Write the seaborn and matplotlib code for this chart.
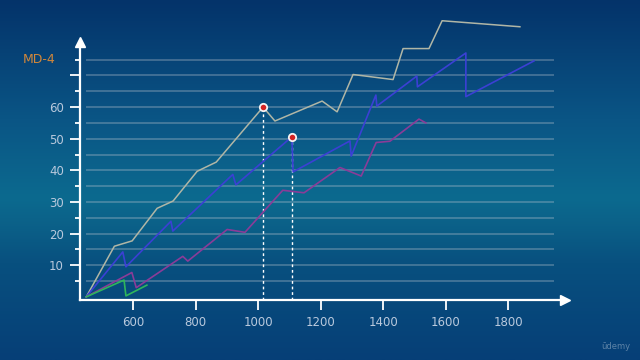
import numpy as np
import matplotlib
matplotlib.use('Agg')
import matplotlib.pyplot as plt
from matplotlib.colors import LinearSegmentedColormap
import seaborn as sns

# данные
gray_x = [450, 540, 597, 677, 728, 805, 866, 1016, 1054, 1205, 1253, 1304, 1432, 1464, 1547, 1589, 1838]
gray_y = [0, 16, 17.7, 28, 30.3, 39.7, 42.6, 60, 55.6, 61.9, 58.5, 70.3, 68.7, 78.5, 78.5, 87.3, 85.4]

blue_x = [450, 567, 577, 721, 727, 919, 929, 1108, 1112, 1294, 1298, 1377, 1380, 1508, 1510, 1665, 1665, 1883]
blue_y = [0, 14.2, 9.5, 23.9, 20.8, 38.7, 35.4, 50.6, 39.5, 49.3, 44.5, 63.8, 60.3, 69.8, 66.4, 77.1, 63.3, 74.6]

purple_x = [450, 596, 610, 759, 775, 901, 958, 1079, 1147, 1262, 1330, 1378, 1422, 1515, 1537]
purple_y = [0, 7.7, 2.9, 12.8, 11.3, 21.3, 20.4, 33.7, 32.9, 40.9, 38.2, 48.8, 49.2, 56.2, 55.0]

green_x = [450, 571, 577, 644]
green_y = [0, 5.3, 0.3, 3.7]

peak_x = [1016, 1108]
peak_y = [60, 50.6]

x_ticks = [600, 800, 1000, 1200, 1400, 1600, 1800]
y_major = [10, 20, 30, 40, 50, 60, 70]
y_major_labels = ['10', '20', '30', '40', '50', '60', '']
y_minor = [5, 15, 25, 35, 45, 55, 65, 75]
grid_levels = list(range(5, 80, 5))
top_label = 'MD-4'

fig = plt.figure(figsize=(6.4, 3.6), dpi=100)

# фон - вертикальный градиент
bg = fig.add_axes([0, 0, 1, 1], zorder=0)
cmap = LinearSegmentedColormap.from_list('bg', [
    (0.0, '#04336a'), (0.33, '#0a5585'), (0.55, '#0c6a8f'),
    (0.63, '#0b6088'), (0.73, '#08507f'), (1.0, '#063f77')])
bg.imshow(np.linspace(0, 1, 256).reshape(-1, 1), aspect='auto', cmap=cmap,
          extent=[0, 1, 1, 0])
bg.axis('off')

ax = fig.add_axes([0.125, 1 - 300 / 360, 0.875, 300 / 360], zorder=1)
ax.set_facecolor('none')
ax.set_xlim(430, 2222.4)
ax.set_ylim(-1, 93.86)

ax.hlines(grid_levels, 450, 1947, color='#c8ccd4', alpha=0.35, lw=1.2, zorder=1)

sns.lineplot(x=gray_x, y=gray_y, ax=ax, color='#b0b6a6', lw=1.1, sort=False, estimator=None, clip_on=False, zorder=3)
sns.lineplot(x=blue_x, y=blue_y, ax=ax, color='#3b40d4', lw=1.2, sort=False, estimator=None, zorder=3)
sns.lineplot(x=purple_x, y=purple_y, ax=ax, color='#8a3c98', lw=1.2, sort=False, estimator=None, zorder=3)
sns.lineplot(x=green_x, y=green_y, ax=ax, color='#2fb55c', lw=1.2, sort=False, estimator=None, zorder=3)

# пунктир от пиков к оси
ax.vlines(peak_x, -1, peak_y, colors='white', linestyles=(0, (2, 2)), lw=1, zorder=2)
sns.scatterplot(x=peak_x, y=peak_y, ax=ax, color='#d42222', edgecolor='#f4f4f4',
                linewidth=1.3, s=28, zorder=5)

# оси со стрелками
for side in ['top', 'right']:
    ax.spines[side].set_visible(False)
ax.spines['left'].set_color('white')
ax.spines['bottom'].set_color('white')
ax.spines['left'].set_linewidth(1.6)
ax.spines['bottom'].set_linewidth(1.6)
ax.spines['left'].set_bounds(-1, 80)
ax.spines['bottom'].set_bounds(430, 1975)
ax.plot([430], [80.7], marker='^', color='white', ms=7, clip_on=False, zorder=6)
ax.plot([1982], [-1], marker='>', color='white', ms=7, clip_on=False, zorder=6)

ax.set_xticks(x_ticks)
ax.set_xticklabels([str(t) for t in x_ticks])
ax.set_yticks(y_major)
ax.set_yticklabels(y_major_labels)
ax.set_yticks(y_minor, minor=True)
ax.tick_params(axis='x', colors='white', length=7.5, width=1.3, pad=4,
               labelsize=8.5, labelcolor='#b9c9dd')
ax.tick_params(axis='y', which='major', colors='white', length=7.5, width=1.3, pad=4,
               labelsize=8.5, labelcolor='#b9c9dd')
ax.tick_params(axis='y', which='minor', colors='white', length=3.8, width=1.3)

ax.text(350, 75, top_label, ha='right', va='center', color='#d2873a', fontsize=9)

fig.text(0.985, 0.025, 'ūdemy', ha='right', va='bottom', color='white', alpha=0.35, fontsize=6)

fig.savefig('out.png', dpi=100)
